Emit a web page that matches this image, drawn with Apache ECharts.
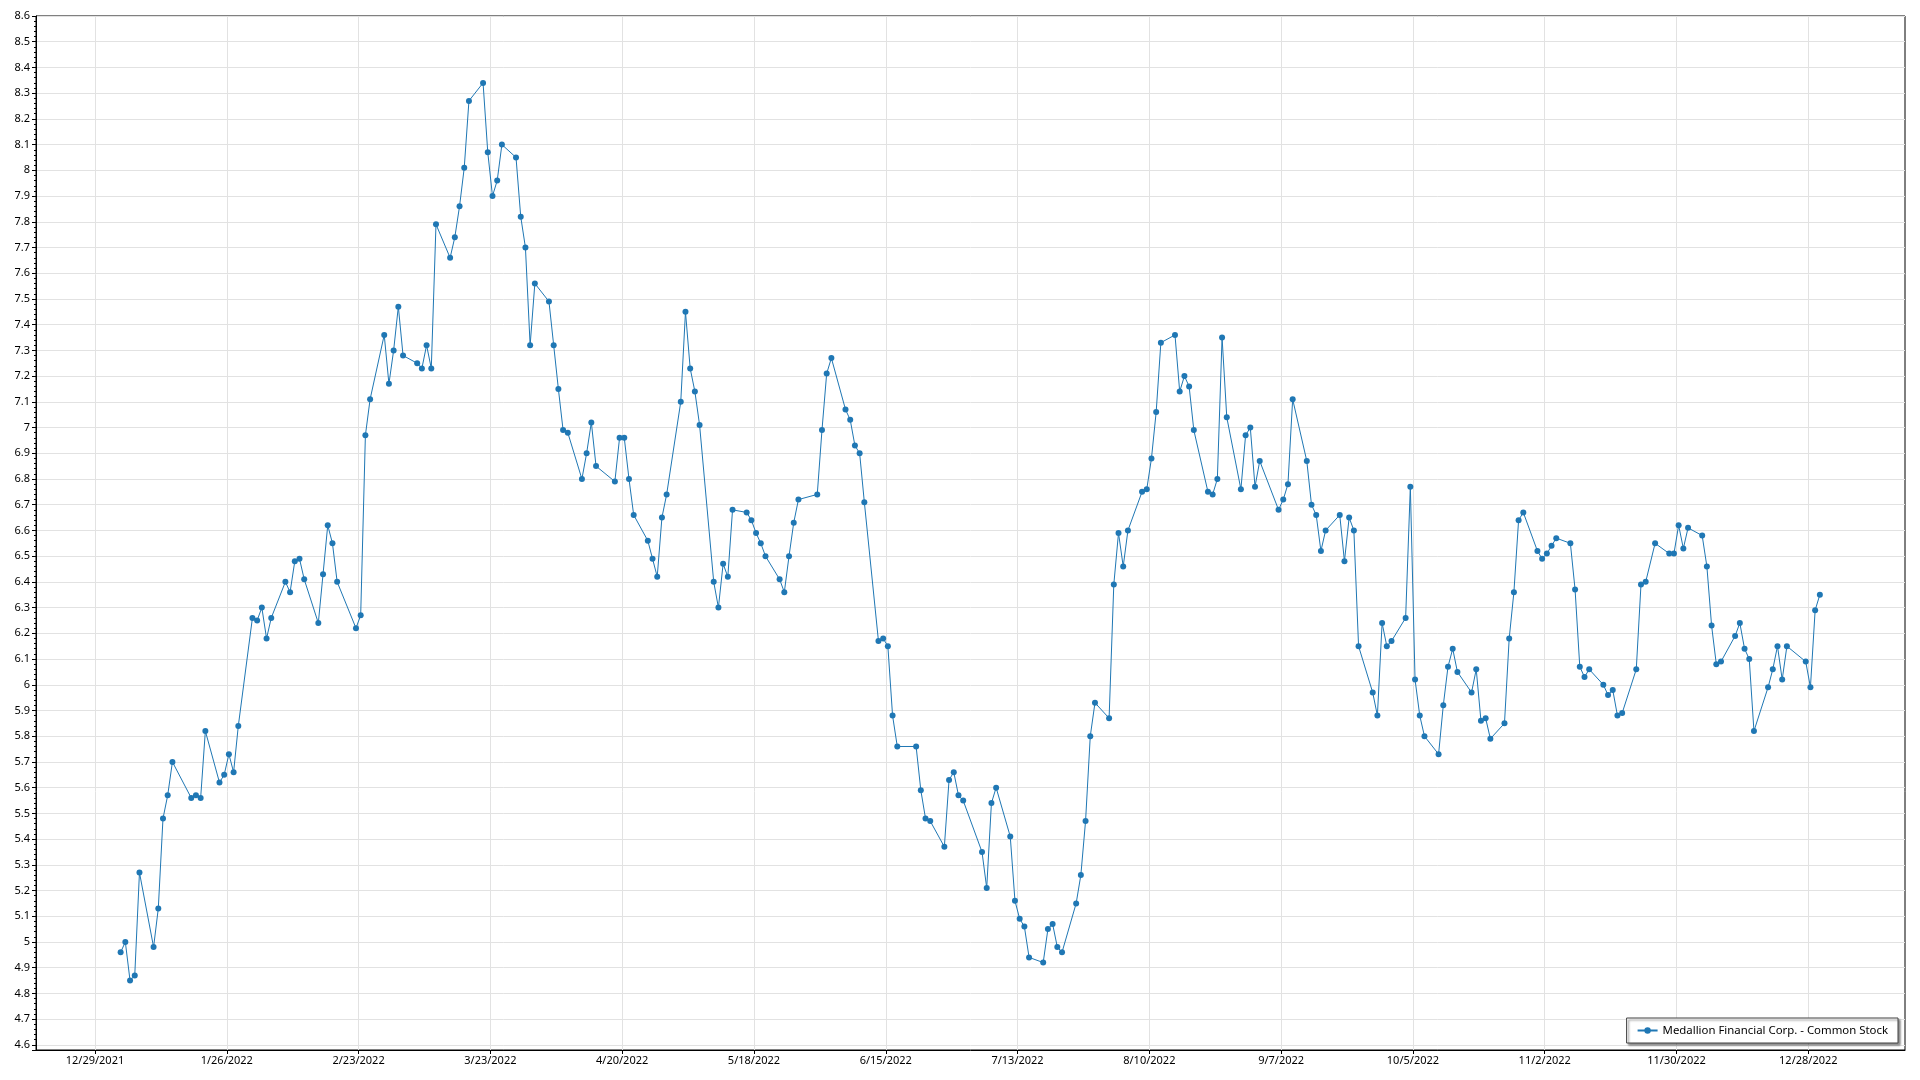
<!DOCTYPE html>
<html><head><meta charset="utf-8">
<script src="https://cdn.jsdelivr.net/npm/echarts@6/dist/echarts.min.js"></script>
<style>html,body{margin:0;padding:0;background:#fff}#c{width:1920px;height:1080px}</style>
</head><body><div id="c"></div>
<script>
const seriesName = 'Medallion Financial Corp. - Common Stock';
const xTickLabels = ['12/29/2021','1/26/2022','2/23/2022','3/23/2022','4/20/2022','5/18/2022','6/15/2022','7/13/2022','8/10/2022','9/7/2022','10/5/2022','11/2/2022','11/30/2022','12/28/2022'];

const janDays = [3,4,5,6,7,10,11,12,13,14,18,19,20,21,24,25,26,27,28,31];
const janClose = [4.96,5.00,4.85,4.87,5.27,4.98,5.13,5.48,5.57,5.70,5.56,5.57,5.56,5.82,5.62,5.65,5.73,5.66,5.84,6.26];
const febDays = [1,2,3,4,7,8,9,10,11,14,15,16,17,18,22,23,24,25,28];
const febClose = [6.25,6.30,6.18,6.26,6.40,6.36,6.48,6.49,6.41,6.24,6.43,6.62,6.55,6.40,6.22,6.27,6.97,7.11,7.36];
const marDays = [1,2,3,4,7,8,9,10,11,14,15,16,17,18,21,22,23,24,25,28,29,30,31];
const marClose = [7.17,7.30,7.47,7.28,7.25,7.23,7.32,7.23,7.79,7.66,7.74,7.86,8.01,8.27,8.34,8.07,7.90,7.96,8.10,8.05,7.82,7.70,7.32];
const aprDays = [1,4,5,6,7,8,11,12,13,14,18,19,20,21,22,25,26,27,28,29];
const aprClose = [7.56,7.49,7.32,7.15,6.99,6.98,6.80,6.90,7.02,6.85,6.79,6.96,6.96,6.80,6.66,6.56,6.49,6.42,6.65,6.74];
const mayDays = [2,3,4,5,6,9,10,11,12,13,16,17,18,19,20,23,24,25,26,27,31];
const mayClose = [7.10,7.45,7.23,7.14,7.01,6.40,6.30,6.47,6.42,6.68,6.67,6.64,6.59,6.55,6.50,6.41,6.36,6.50,6.63,6.72,6.74];
const junDays = [1,2,3,6,7,8,9,10,13,14,15,16,17,21,22,23,24,27,28,29,30];
const junClose = [6.99,7.21,7.27,7.07,7.03,6.93,6.90,6.71,6.17,6.18,6.15,5.88,5.76,5.76,5.59,5.48,5.47,5.37,5.63,5.66,5.57];
const julDays = [1,5,6,7,8,11,12,13,14,15,18,19,20,21,22,25,26,27,28,29];
const julClose = [5.55,5.35,5.21,5.54,5.60,5.41,5.16,5.09,5.06,4.94,4.92,5.05,5.07,4.98,4.96,5.15,5.26,5.47,5.80,5.93];
const augDays = [1,2,3,4,5,8,9,10,11,12,15,16,17,18,19,22,23,24,25,26,29,30,31];
const augClose = [5.87,6.39,6.59,6.46,6.60,6.75,6.76,6.88,7.06,7.33,7.36,7.14,7.20,7.16,6.99,6.75,6.74,6.80,7.35,7.04,6.76,6.97,7.00];
const sepDays = [1,2,6,7,8,9,12,13,14,15,16,19,20,21,22,23,26,27,28,29,30];
const sepClose = [6.77,6.87,6.68,6.72,6.78,7.11,6.87,6.70,6.66,6.52,6.60,6.66,6.48,6.65,6.60,6.15,5.97,5.88,6.24,6.15,6.17];
const octDays = [3,4,5,6,7,10,11,12,13,14,17,18,19,20,21,24,25,26,27,28,31];
const octClose = [6.26,6.77,6.02,5.88,5.80,5.73,5.92,6.07,6.14,6.05,5.97,6.06,5.86,5.87,5.79,5.85,6.18,6.36,6.64,6.67,6.52];
const novDays = [1,2,3,4,7,8,9,10,11,14,15,16,17,18,21,22,23,25,28,29,30];
const novClose = [6.49,6.51,6.54,6.57,6.55,6.37,6.07,6.03,6.06,6.00,5.96,5.98,5.88,5.89,6.06,6.39,6.40,6.55,6.51,6.51,6.62];
const decDays = [1,2,5,6,7,8,9,12,13,14,15,16,19,20,21,22,23,27,28,29,30];
const decClose = [6.53,6.61,6.58,6.46,6.23,6.08,6.09,6.19,6.24,6.14,6.10,5.82,5.99,6.06,6.15,6.02,6.15,6.09,5.99,6.29,6.35];

const DAY = 86400000;
const origin = Date.UTC(2021, 11, 29);
const sampleTime = 0.45; // time of day of each quote, as a fraction of a day
function dayIndex(y, m, d) { return (Date.UTC(y, m - 1, d) - origin) / DAY; }

const months = [[janDays,janClose],[febDays,febClose],[marDays,marClose],[aprDays,aprClose],[mayDays,mayClose],[junDays,junClose],
  [julDays,julClose],[augDays,augClose],[sepDays,sepClose],[octDays,octClose],[novDays,novClose],[decDays,decClose]];
const points = [];
months.forEach(([ds, vs], i) => ds.forEach((d, k) => points.push([dayIndex(2022, i + 1, d) + sampleTime, vs[k]])));

const tickValues = xTickLabels.map(s => { const [m, d, y] = s.split('/').map(Number); return dayIndex(y, m, d); });
const tickLabelMap = new Map(tickValues.map((v, i) => [v, xTickLabels[i]]));

const font = 'Noto Sans';
const chart = echarts.init(document.getElementById('c'), null, { renderer: 'canvas' });
chart.setOption({
  animation: false,
  backgroundColor: '#fff',
  grid: { left: 36, right: 15, top: 16, bottom: 30, show: true, borderColor: '#000', borderWidth: 1, backgroundColor: 'transparent' },
  xAxis: {
    type: 'value', min: -12.53, max: 384.54,
    axisLine: { show: true, onZero: false, lineStyle: { color: '#000', width: 1 } },
    axisTick: { show: true, customValues: tickValues, length: 4, lineStyle: { color: '#000' } },
    axisLabel: { customValues: tickValues, formatter: v => tickLabelMap.get(v) || '', fontFamily: font, fontSize: 11, color: '#000', margin: 5 },
    splitLine: { show: true, lineStyle: { color: '#e2e2e2', width: 1 } }
  },
  yAxis: {
    type: 'value', min: 4.58, max: 8.6, splitNumber: 40,
    axisLine: { show: true, onZero: false, lineStyle: { color: '#000', width: 1 } },
    axisTick: { show: true, length: 4, lineStyle: { color: '#000' } },
    minorTick: { show: true, splitNumber: 5, length: 2, lineStyle: { color: '#000' } },
    axisLabel: { showMinLabel: false, formatter: v => String(parseFloat(v.toFixed(2))), fontFamily: font, fontSize: 11, color: '#000', margin: 6 },
    splitLine: { show: true, lineStyle: { color: '#e2e2e2', width: 1 } }
  },
  legend: {
    data: [seriesName], right: 22, bottom: 37, orient: 'horizontal',
    backgroundColor: '#fff', borderColor: '#444', borderWidth: 1, borderRadius: 0,
    padding: [7, 10, 7, 10], itemWidth: 20, itemHeight: 8,
    shadowColor: 'rgba(0,0,0,0.45)', shadowBlur: 2, shadowOffsetX: 2, shadowOffsetY: 2,
    textStyle: { fontFamily: font, fontSize: 11.4, color: '#000' }
  },
  series: [{
    name: seriesName, type: 'line', data: points,
    symbol: 'circle', symbolSize: 6, showAllSymbol: true,
    lineStyle: { color: '#1f77b4', width: 1 },
    itemStyle: { color: '#1f77b4', borderWidth: 0 }
  }]
});
</script></body></html>
